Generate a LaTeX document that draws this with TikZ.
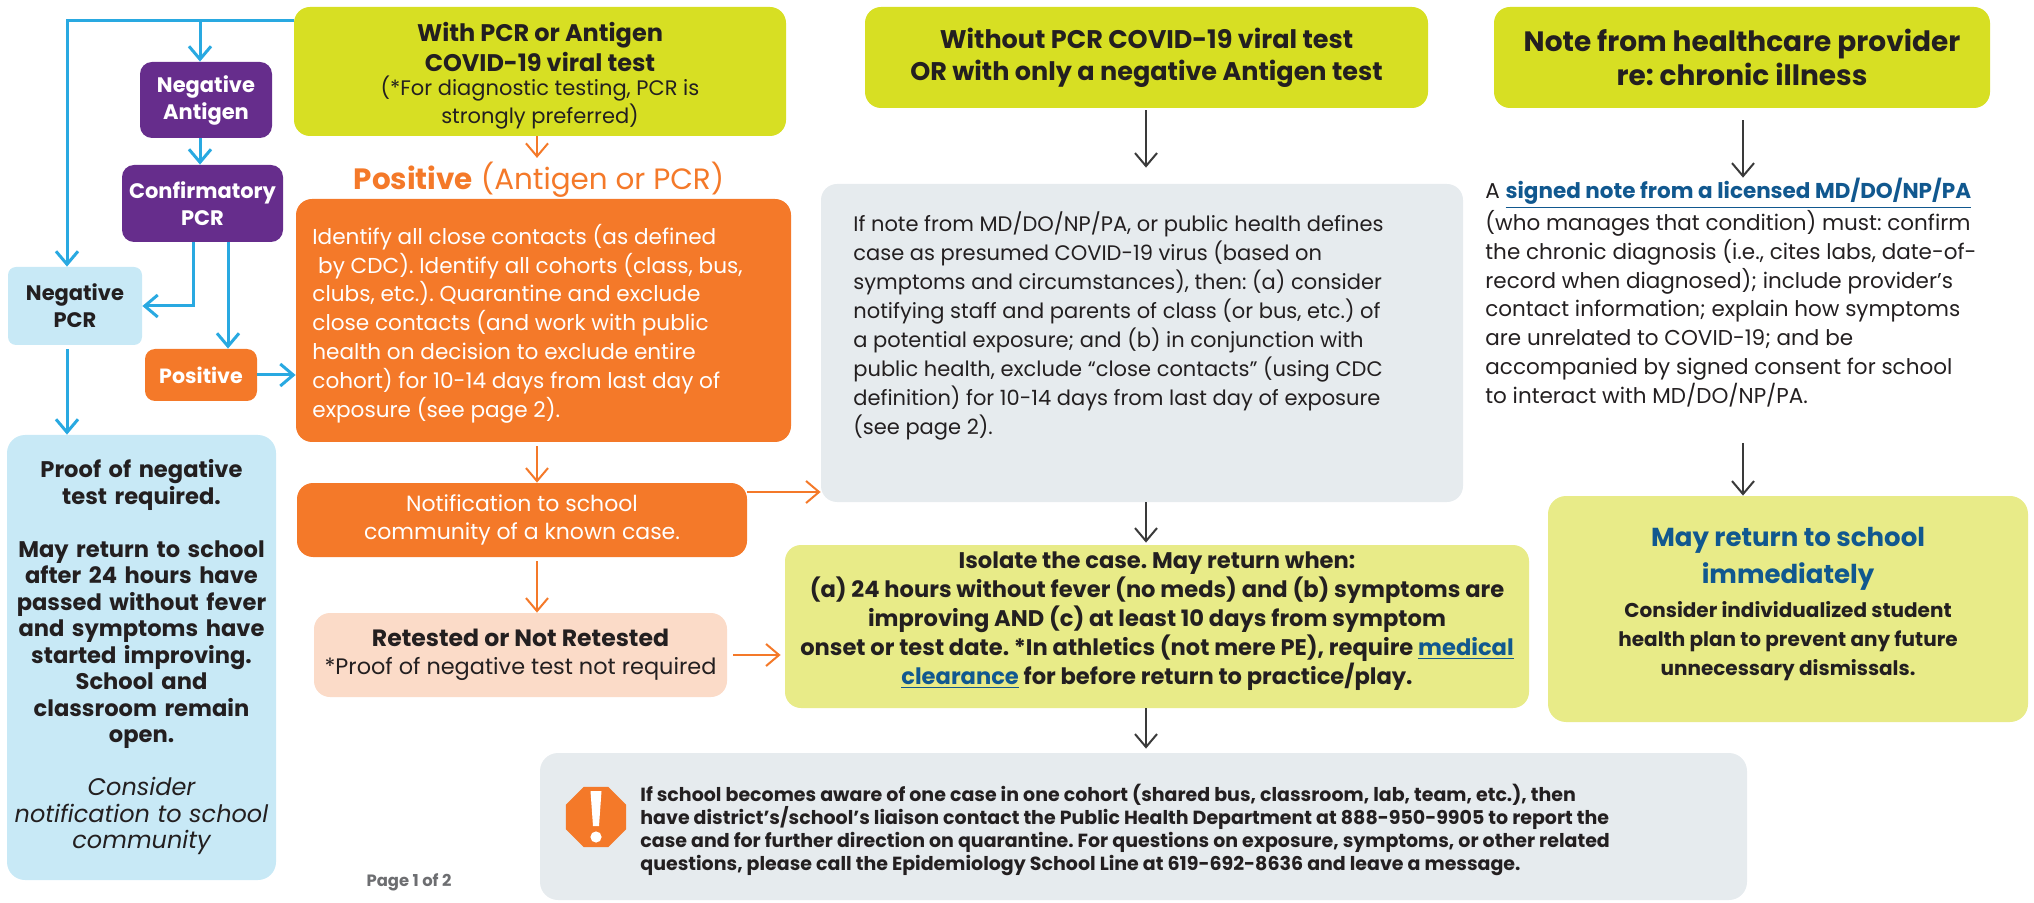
\documentclass[tikz,border=0pt]{standalone}
\usepackage{fontspec}
\setmainfont{Poppins}
\usetikzlibrary{arrows.meta,shapes.geometric,calc}
\definecolor{lime}{HTML}{D7DF23}
\definecolor{paleyel}{HTML}{E8EB88}
\definecolor{grayb}{HTML}{E6EBEE}
\definecolor{lblue}{HTML}{C8E9F6}
\definecolor{purp}{HTML}{662D8C}
\definecolor{orng}{HTML}{F47929}
\definecolor{peach}{HTML}{FBDBC8}
\definecolor{bline}{HTML}{29A9E1}
\definecolor{darkar}{HTML}{3A3A3A}
\definecolor{linkblue}{HTML}{11588F}
\definecolor{txt}{HTML}{231F20}
\definecolor{pagegray}{HTML}{6D6E71}
\begin{document}
\begin{tikzpicture}[x=0.5pt,y=-0.5pt,
  box/.style={inner sep=0pt, draw=none, text=txt, rounded corners=7pt},
  tip/.style={-{Straight Barb[length=6.5pt,width=11pt]}},
  bl/.style={draw=bline, line width=1.5pt, tip},
  oa/.style={draw=orng, line width=1pt, tip},
  da/.style={draw=darkar, line width=1pt, tip},
  lbl/.style={inner sep=0pt, text=txt}
]
\frenchspacing
\useasboundingbox (0,0) rectangle (2034,903);

% ---------- left column ----------
\node[box, fill=purp, text=white, minimum width=66pt, minimum height=38pt, rounded corners=6pt,
  align=center, font=\bfseries\fontsize{10.5}{13.5}\selectfont] (negant) at (206,100) {Negative\\Antigen};
\node[box, fill=purp, text=white, minimum width=80.5pt, minimum height=38.5pt, rounded corners=6pt,
  align=center, font=\bfseries\fontsize{10.5}{13.5}\selectfont] (confpcr) at (202.5,203.5) {Confirmatory\\PCR};
\node[box, fill=lblue, minimum width=67pt, minimum height=39pt, rounded corners=4pt,
  align=center, font=\bfseries\fontsize{10.5}{13.5}\selectfont] (negpcr) at (75,306) {Negative\\PCR};
\node[box, fill=orng, text=white, minimum width=56pt, minimum height=26pt, rounded corners=5pt,
  font=\bfseries\fontsize{10.3}{13}\selectfont] (pos) at (201,375) {Positive};
\node[box, fill=lblue, minimum width=134.5pt, minimum height=222.5pt, rounded corners=9pt,
  text width=134pt, align=center, font=\fontsize{11.3}{13.25}\selectfont] (proof) at (141.5,657.5)
  {{\bfseries Proof of negative\\test required.\\[13.25pt]
   May return to school\\after 24 hours have\\passed without fever\\and symptoms have\\started improving.\\School and\\classroom remain\\open.}\\[13.25pt]
   {\itshape\fontsize{12}{13.25}\selectfont Consider\\notification to school\\community}};

% ---------- second column ----------
\node[box, fill=lime, minimum width=246pt, minimum height=64.5pt, rounded corners=8pt] (green1) at (540,71.5) {};
\node[lbl, align=center, font=\bfseries\fontsize{12}{15}\selectfont] (g1t) at (540,47) {With PCR or Antigen\\COVID-19 viral test};
\node[lbl, align=center, font=\fontsize{10.5}{12.5}\selectfont] (g1s) at (540,102.5) {(*For diagnostic testing, PCR is\\strongly preferred)};

\node[inner sep=2pt, text=orng, font=\fontsize{14.7}{17}\selectfont] (poslabel) at (539,180) {\textbf{Positive} (Antigen or PCR)};

\node[box, fill=orng, minimum width=247.5pt, minimum height=121.5pt, rounded corners=8pt] (orange) at (543.5,320.5) {};
\node[lbl, text=white, anchor=west, align=left, font=\fontsize{10.8}{14.4}\selectfont] (ort) at (312,323.5)
  {Identify all close contacts (as defined\\\ by CDC). Identify all cohorts (class, bus,\\clubs, etc.). Quarantine and exclude\\close contacts (and work with public\\health on decision to exclude entire\\cohort) for 10-14 days from last day of\\exposure (see page 2).};

\node[box, fill=orng, text=white, minimum width=225pt, minimum height=37pt, rounded corners=8pt,
  align=center, font=\fontsize{11}{14.4}\selectfont] (notif) at (522,520) {Notification to school\\community of a known case.};

\node[box, fill=peach, minimum width=206.5pt, minimum height=42pt, rounded corners=8pt,
  align=center, font=\fontsize{11.2}{14}\selectfont] (retest) at (520.5,655) {{\bfseries\fontsize{11.8}{14}\selectfont Retested or Not Retested}\\*Proof of negative test not required};

% ---------- third column ----------
\node[box, fill=lime, minimum width=281.5pt, minimum height=50.5pt, rounded corners=8pt,
  align=center, font=\bfseries\fontsize{12.75}{16}\selectfont] (green2) at (1146.5,57.5) {Without PCR COVID-19 viral test\\OR with only a negative Antigen test};

\node[box, fill=grayb, minimum width=321pt, minimum height=159pt, rounded corners=8pt] (graybox) at (1142,343) {};
\node[lbl, anchor=west, align=left, font=\fontsize{10.5}{14.5}\selectfont] (gt) at (853,325.5)
  {If note from MD/DO/NP/PA, or public health defines\\case as presumed COVID-19 virus (based on\\symptoms and circumstances), then: (a) consider\\notifying staff and parents of class (or bus, etc.) of\\a potential exposure; and (b) in conjunction with\\public health, exclude “close contacts” (using CDC\\definition) for 10-14 days from last day of exposure\\(see page 2).};

\node[box, fill=paleyel, minimum width=372pt, minimum height=81.5pt, rounded corners=8pt] (isolate) at (1157,626.5) {};
\node[lbl, align=center, font=\bfseries\fontsize{11.3}{14.5}\selectfont] (ist) at (1157,621.5)
  {Isolate the case. May return when:\\(a) 24 hours without fever (no meds) and (b) symptoms are\\improving AND (c) at least 10 days from symptom\\onset or test date. *In athletics (not mere PE), require \textcolor{linkblue}{\underline{medical}}\\\textcolor{linkblue}{\underline{clearance}} for before return to practice/play.};

\node[box, fill=grayb, minimum width=603.5pt, minimum height=73.5pt, rounded corners=9pt] (bottom) at (1143.5,826.5) {};
\node[regular polygon, regular polygon sides=8, fill=orng, minimum size=32.5pt, inner sep=0pt] (stop) at (596,817) {};
\fill[white] (590.5,791) -- (601.5,791) -- (599,826) -- (593,826) -- cycle;
\fill[white] (596,837) circle (2.8pt);
\node[lbl, anchor=west, align=left, font=\bfseries\fontsize{9.5}{11.5}\selectfont] (bt) at (640,829.5)
  {If school becomes aware of one case in one cohort (shared bus, classroom, lab, team, etc.), then\\have district’s/school’s liaison contact the Public Health Department at 888-950-9905 to report the\\case and for further direction on quarantine. For questions on exposure, symptoms, or other related\\questions, please call the Epidemiology School Line at 619-692-8636 and leave a message.};

\node[lbl, text=pagegray, font=\bfseries\fontsize{8.2}{9}\selectfont] (pg) at (409,882) {Page 1 of 2};

% ---------- right column ----------
\node[box, fill=lime, minimum width=248pt, minimum height=50.5pt, rounded corners=8pt,
  align=center, font=\bfseries\fontsize{14}{17}\selectfont] (green3) at (1742,57.5) {Note from healthcare provider\\re: chronic illness};

\node[lbl, anchor=west, align=left, font=\fontsize{10.75}{14.4}\selectfont] (rt) at (1485,292.5)
  {A \textcolor{linkblue}{\bfseries\underline{signed note from a licensed MD/DO/NP/PA}}\\(who manages that condition) must: confirm\\the chronic diagnosis (i.e., cites labs, date-of-\\record when diagnosed); include provider’s\\contact information; explain how symptoms\\are unrelated to COVID-19; and be\\accompanied by signed consent for school\\to interact with MD/DO/NP/PA.};

\node[box, fill=paleyel, minimum width=240pt, minimum height=113pt, rounded corners=9pt] (mayret) at (1788,609) {};
\node[lbl, text=linkblue, align=center, font=\bfseries\fontsize{13}{18.5}\selectfont] (mrt) at (1788,558.5) {May return to school\\immediately};
\node[lbl, align=center, font=\bfseries\fontsize{10}{14.5}\selectfont] (mrs) at (1788,641) {Consider individualized student\\health plan to prevent any future\\unnecessary dismissals.};

% ---------- connectors ----------
\coordinate (tl) at (67,21);
\coordinate (tj) at (200,21);
\coordinate (ca) at (193,242);
\coordinate (cb) at (228,242);
\draw[bl] (green1.west |- tl) -- (tl) -- (tl |- negpcr.north);
\draw[bl] (tj) -- (tj |- negant.north);
\draw[bl] (tj |- negant.south) -- (tj |- confpcr.north);
\draw[bl] (ca |- confpcr.south) |- (negpcr.east);
\draw[bl] (cb |- confpcr.south) -- (cb |- pos.north);
\draw[bl] (pos.east) -- (pos.east -| orange.west);
\draw[bl, shorten <=2pt] (tl |- negpcr.south) -- (tl |- proof.north);

\coordinate (oc) at (537,0);
\coordinate (nr) at (0,492);
\draw[oa] (oc |- green1.south) -- (oc |- poslabel.north);
\draw[oa, shorten <=2pt] (oc |- orange.south) -- (oc |- notif.north);
\draw[oa] (notif.east |- nr) -- (graybox.west |- nr);
\draw[oa, shorten <=2pt] (oc |- notif.south) -- (oc |- retest.north);
\draw[oa, shorten <=3pt, shorten >=2pt] (retest.east) -- (isolate.west |- retest.east);

\coordinate (dc) at (1146,0);
\coordinate (rc) at (1743,0);
\coordinate (rs) at (1743,443);
\draw[da, shorten <=1pt, shorten >=8pt] (dc |- green2.south) -- (dc |- graybox.north);
\draw[da, shorten >=1pt] (dc |- graybox.south) -- (dc |- isolate.north);
\draw[da, shorten >=2pt] (dc |- isolate.south) -- (dc |- bottom.north);
\draw[da, shorten <=6pt] (rc |- green3.south) -- (rc |- rt.north);
\draw[da] (rs) -- (rs |- mayret.north);
\end{tikzpicture}
\end{document}
